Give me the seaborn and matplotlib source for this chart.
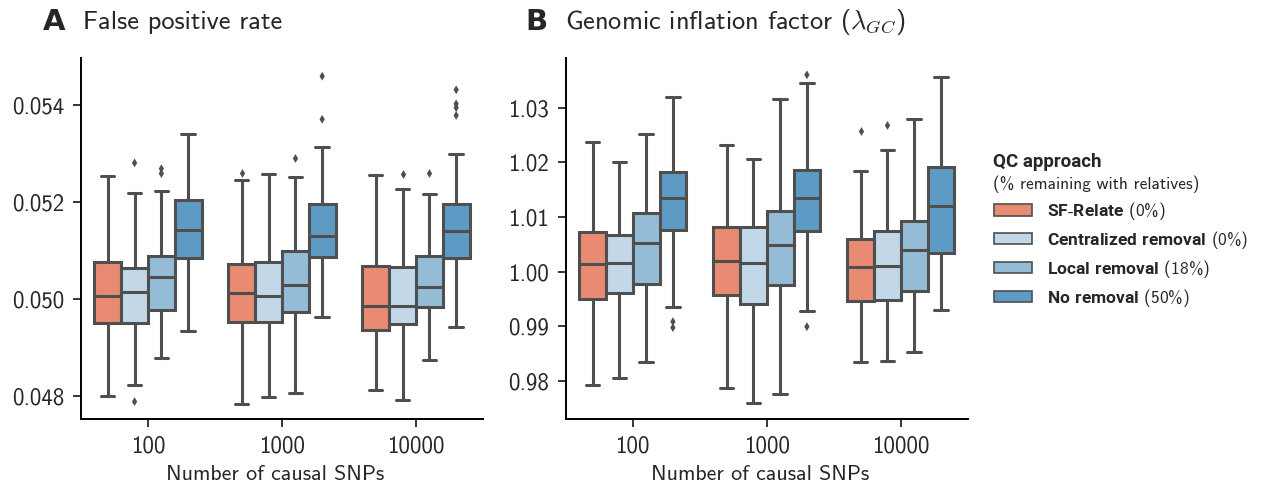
import numpy as np
import pandas as pd
import matplotlib.pyplot as plt
import matplotlib.patches as mpatches
from matplotlib.ticker import FormatStrFormatter
import seaborn as sns

# categories
causal_snps = ["100", "1000", "10000"]
approaches = ["SF-Relate", "Centralized removal", "Local removal", "No removal"]
pct_remaining = ["0%", "0%", "18%", "50%"]
colors = ["#e88b72", "#c2d8e8", "#94bcd6", "#5d9bc5"]

# panel A: false positive rate, one row per causal SNP group, one column per approach
fpr_low = [[0.04799, 0.04822, 0.04879, 0.04934],
           [0.04784, 0.04798, 0.04805, 0.04962],
           [0.04812, 0.04792, 0.04874, 0.04943]]
fpr_q1 = [[0.04950, 0.04950, 0.04978, 0.05084],
          [0.04952, 0.04952, 0.04974, 0.05086],
          [0.04936, 0.04948, 0.04983, 0.05085]]
fpr_med = [[0.05007, 0.05015, 0.05045, 0.05143],
           [0.05012, 0.05006, 0.05028, 0.05131],
           [0.04986, 0.04985, 0.05024, 0.05140]]
fpr_q3 = [[0.05076, 0.05063, 0.05089, 0.05205],
          [0.05072, 0.05077, 0.05100, 0.05197],
          [0.05067, 0.05066, 0.05088, 0.05197]]
fpr_high = [[0.05254, 0.05219, 0.05223, 0.05341],
            [0.05246, 0.05259, 0.05252, 0.05314],
            [0.05256, 0.05228, 0.05217, 0.05300]]
fpr_outliers = [("100", "Centralized removal", 0.05281), ("100", "Centralized removal", 0.04788),
                ("100", "Local removal", 0.05269), ("100", "Local removal", 0.05259),
                ("1000", "SF-Relate", 0.05261), ("1000", "Local removal", 0.05291),
                ("1000", "No removal", 0.05460), ("1000", "No removal", 0.05371),
                ("10000", "Centralized removal", 0.05257), ("10000", "Local removal", 0.05261),
                ("10000", "No removal", 0.05432), ("10000", "No removal", 0.05403),
                ("10000", "No removal", 0.05395), ("10000", "No removal", 0.05379)]

# panel B: genomic inflation factor
gc_low = [[0.97927, 0.98049, 0.98348, 0.99354],
          [0.97866, 0.97604, 0.97762, 0.99287],
          [0.98354, 0.98372, 0.98530, 0.99305]]
gc_q1 = [[0.99500, 0.99616, 0.99780, 1.00762],
         [0.99573, 0.99402, 0.99756, 1.00750],
         [0.99463, 0.99482, 0.99646, 1.00335]]
gc_med = [[1.00146, 1.00165, 1.00530, 1.01354],
          [1.00189, 1.00152, 1.00488, 1.01354],
          [1.00079, 1.00104, 1.00396, 1.01195]]
gc_q3 = [[1.00720, 1.00671, 1.01067, 1.01829],
         [1.00811, 1.00811, 1.01116, 1.01860],
         [1.00604, 1.00744, 1.00927, 1.01909]]
gc_high = [[1.02366, 1.02000, 1.02524, 1.03201],
           [1.02317, 1.02055, 1.03159, 1.03445],
           [1.01848, 1.02226, 1.02793, 1.03555]]
gc_outliers = [("100", "No removal", 0.99085), ("100", "No removal", 0.98976),
               ("1000", "No removal", 1.03598), ("1000", "No removal", 0.98994),
               ("10000", "SF-Relate", 1.02579), ("10000", "Centralized removal", 1.02689)]


def box_frame(low, q1, med, q3, high):
    # five values per box so that quartiles and whisker ends fall on them
    rows = []
    for i, snp in enumerate(causal_snps):
        for j, app in enumerate(approaches):
            for v in (low[i][j], q1[i][j], med[i][j], q3[i][j], high[i][j]):
                rows.append((snp, app, v))
    return pd.DataFrame(rows, columns=["snps", "approach", "value"])


def draw_panel(ax, df, outliers, ylim, fmt, yticks):
    sns.boxplot(data=df, x="snps", y="value", hue="approach", order=causal_snps,
                hue_order=approaches, palette=colors, saturation=1, whis=(0, 100),
                width=0.8, linecolor="#4f4f4f", linewidth=2.2, showfliers=False,
                legend=False, ax=ax)
    out = pd.DataFrame(outliers, columns=["snps", "approach", "value"])
    sns.stripplot(data=out, x="snps", y="value", hue="approach", order=causal_snps,
                  hue_order=approaches, palette=["#4f4f4f"] * 4, dodge=True, jitter=False,
                  marker="d", size=4.5, linewidth=0, legend=False, ax=ax)
    ax.set_ylim(*ylim)
    ax.set_xlim(-0.5, 2.5)
    ax.set_yticks(yticks)
    ax.yaxis.set_major_formatter(FormatStrFormatter(fmt))
    ax.set_xlabel("Number of causal SNPs", fontsize=15.8)
    ax.xaxis.set_label_coords(0.483, -0.155)
    ax.xaxis.label.set_va("center")
    ax.set_ylabel("")
    ax.tick_params(labelsize=16.5, length=6, width=1.3, pad=6)
    for s in ["left", "bottom"]:
        ax.spines[s].set_linewidth(1.4)
        ax.spines[s].set_color("black")
    sns.despine(ax=ax)


sns.set_style("ticks")
plt.rcParams["font.family"] = ["cmss10", "DejaVu Sans"]
plt.rcParams["mathtext.fontset"] = "custom"
plt.rcParams["mathtext.bf"] = "Roboto:bold"
plt.rcParams["axes.unicode_minus"] = False

fig = plt.figure(figsize=(12.77, 4.87), dpi=100)
ax1 = fig.add_axes([0.0634, 0.1396, 0.3148, 0.7407])
ax2 = fig.add_axes([0.4430, 0.1396, 0.3148, 0.7407])

draw_panel(ax1, box_frame(fpr_low, fpr_q1, fpr_med, fpr_q3, fpr_high), fpr_outliers,
           (0.04752, 0.05497), "%.3f", [0.048, 0.050, 0.052, 0.054])
draw_panel(ax2, box_frame(gc_low, gc_q1, gc_med, gc_q3, gc_high), gc_outliers,
           (0.97305, 1.0390), "%.2f", [0.98, 0.99, 1.00, 1.01, 1.02, 1.03])

fig.text(43 / 1277, 1 - 22 / 487, "A", fontsize=21, fontweight="bold",
         family="DejaVu Sans", va="center")
fig.text(83 / 1277, 1 - 22 / 487, "False positive rate", fontsize=19, va="center")
fig.text(525 / 1277, 1 - 22 / 487, "B", fontsize=21, fontweight="bold",
         family="DejaVu Sans", va="center")
fig.text(565 / 1277, 1 - 22 / 487, r"Genomic inflation factor ($\lambda_{GC}$)",
         fontsize=19, va="center", math_fontfamily="cm")

# legend
fig.text(993 / 1277, 1 - 162 / 487, "QC approach", fontsize=13.5, fontweight="bold",
         family="Roboto", va="center")
fig.text(993 / 1277, 1 - 184 / 487, "(% remaining with relatives)", fontsize=12.5, va="center")
handles = [mpatches.Patch(facecolor=c, edgecolor="#4f4f4f", linewidth=1.2) for c in colors]
labels = []
for app, pct in zip(approaches, pct_remaining):
    bold = app.replace("-", "}$-$\\mathbf{").replace(" ", "\\ ")
    labels.append(r"$\mathbf{" + bold + "}$ (" + pct + ")")
fig.legend(handles, labels, loc="upper left", bbox_to_anchor=(994 / 1277, 1 - 200 / 487),
           frameon=False, fontsize=12.5, handlelength=2.2, handleheight=0.62,
           handletextpad=0.85, labelspacing=0.4, borderpad=0, borderaxespad=0)

fig.savefig("out.png", dpi=100, facecolor="white")
